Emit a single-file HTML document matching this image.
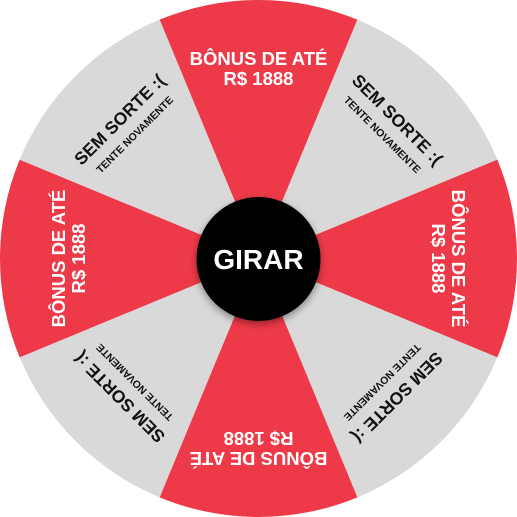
<!DOCTYPE html>
<html><head><meta charset="utf-8"><style>
html,body{margin:0;padding:0;background:#fff;width:517px;height:517px;overflow:hidden}
svg{display:block}
text{font-family:"Liberation Sans",sans-serif;font-weight:bold;text-anchor:middle}
</style></head><body>
<svg id="wheel" width="517" height="517" viewBox="0 0 517 517">
<defs><filter id="sh" x="-30%" y="-30%" width="160%" height="160%"><feDropShadow dx="0" dy="3" stdDeviation="4" flood-opacity="0.4"/></filter></defs>
<g id="segs"></g>
<g>
<circle cx="258.5" cy="259" r="62" fill="#000" filter="url(#sh)"/>
<text x="258.5" y="269" font-size="28" fill="#fff">GIRAR</text>
</g>
</svg>
<script>
const labels1=["BÔNUS DE ATÉ","SEM SORTE :(","BÔNUS DE ATÉ","SEM SORTE :(","BÔNUS DE ATÉ","SEM SORTE :(","BÔNUS DE ATÉ","SEM SORTE :("];
const labels2=["R$ 1888","TENTE NOVAMENTE","R$ 1888","TENTE NOVAMENTE","R$ 1888","TENTE NOVAMENTE","R$ 1888","TENTE NOVAMENTE"];
const cx=258.5,cy=258.5,R=258.5;
const ns="http://www.w3.org/2000/svg";
const g=document.getElementById('segs');
for(let i=0;i<8;i++){
  const a0=(i*45-22.5-90)*Math.PI/180,a1=(i*45+22.5-90)*Math.PI/180;
  const p=document.createElementNS(ns,'path');
  p.setAttribute('d',`M${cx},${cy} L${cx+R*Math.cos(a0)},${cy+R*Math.sin(a0)} A${R},${R} 0 0 1 ${cx+R*Math.cos(a1)},${cy+R*Math.sin(a1)} Z`);
  const red=i%2===0;
  p.setAttribute('fill',red?'#ee3a48':'#d9d9d9');
  
  
  g.appendChild(p);
  const tg=document.createElementNS(ns,'g');
  tg.setAttribute('transform',`rotate(${i*45} ${cx} ${cy})`);
  const t1=document.createElementNS(ns,'text');
  t1.setAttribute('x',cx);t1.setAttribute('y',red?65:68);
  t1.setAttribute('font-size',red?18.5:17.5);
  t1.setAttribute('fill',red?'#fff':'#111');
  t1.textContent=labels1[i];
  
  
  const t2=document.createElementNS(ns,'text');
  t2.setAttribute('x',cx);t2.setAttribute('y',red?85:87);
  t2.setAttribute('font-size',red?18.5:10.5);
  t2.setAttribute('fill',red?'#fff':'#111');
  t2.textContent=labels2[i];
  
  
  tg.appendChild(t1);tg.appendChild(t2);
  g.appendChild(tg);
}
</script>
</body></html>
